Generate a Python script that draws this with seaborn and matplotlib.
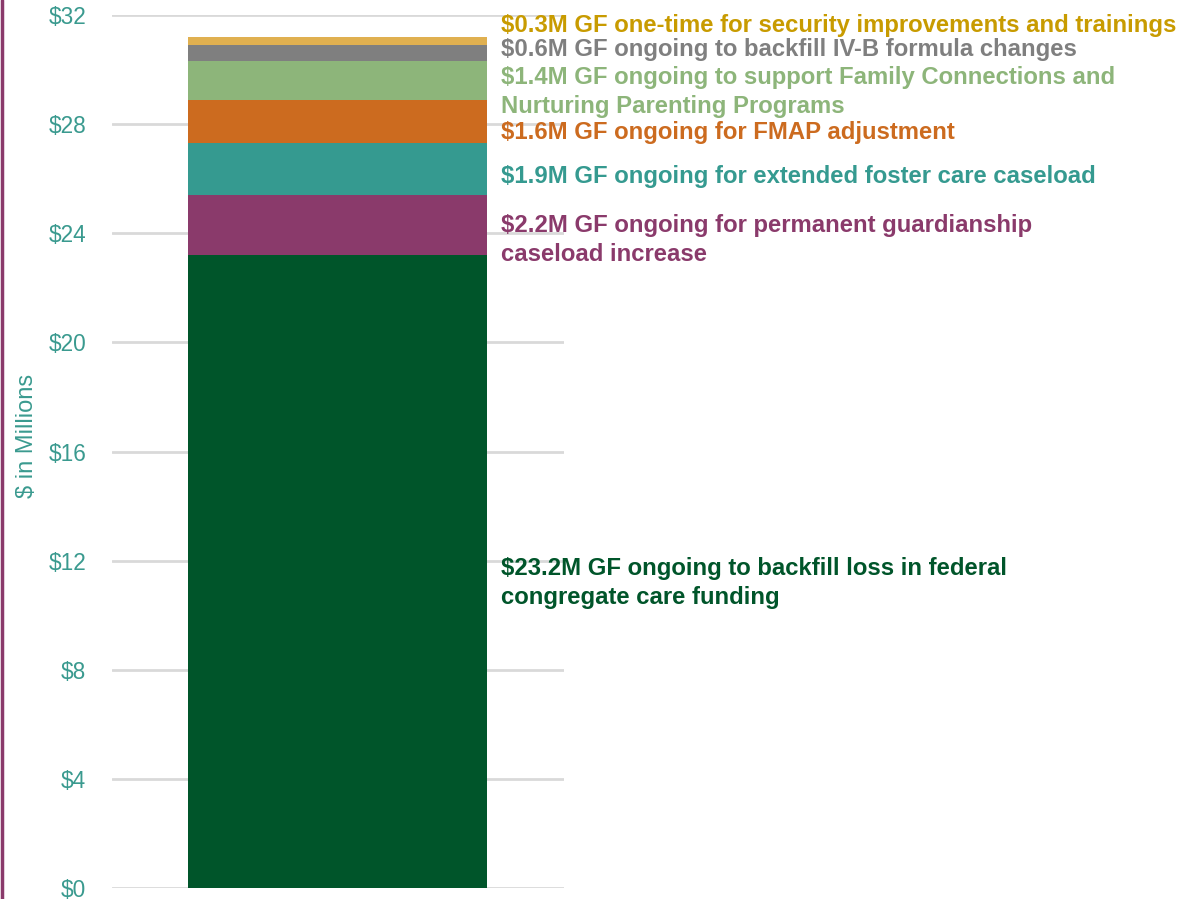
import numpy as np
import pandas as pd
import matplotlib
matplotlib.use("Agg")
import matplotlib.pyplot as plt
import matplotlib.transforms as mtransforms
from matplotlib.lines import Line2D
import seaborn as sns

# stacked components, bottom to top ($ millions)
amounts = [23.2, 2.2, 1.9, 1.6, 1.4, 0.6, 0.3]
labels = [
    "$23.2M GF ongoing to backfill loss in federal\ncongregate care funding",
    "$2.2M GF ongoing for permanent guardianship\ncaseload increase",
    "$1.9M GF ongoing for extended foster care caseload",
    "$1.6M GF ongoing for FMAP adjustment",
    "$1.4M GF ongoing to support Family Connections and\nNurturing Parenting Programs",
    "$0.6M GF ongoing to backfill IV-B formula changes",
    "$0.3M GF one-time for security improvements and trainings",
]
bar_colors = ["#00552A", "#8A3A6B", "#359A90", "#CC6B1F", "#8DB57A", "#7F7F7F", "#E0B050"]
text_colors = ["#00552A", "#8A3A6B", "#359A90", "#CC6B1F", "#8DB57A", "#7F7F7F", "#C89B00"]
# vertical position of each annotation (data units)
label_y = [11.18, 23.76, 26.08, 27.70, 29.17, 30.74, 31.60]
ticks = [0, 4, 8, 12, 16, 20, 24, 28, 32]

sns.set_style("white")
plt.rcParams["font.family"] = ["Liberation Sans", "DejaVu Sans"]

teal = "#3A9A8F"
fig = plt.figure(figsize=(11.91, 8.99), dpi=100)
ax = fig.add_axes([112 / 1191, 11 / 899, (564 - 112) / 1191, (888 - 15) / 899])

df = pd.DataFrame({"cat": [""] * len(amounts), "amount": amounts})
bottoms = np.concatenate([[0], np.cumsum(amounts)[:-1]])
for i in range(len(amounts)):
    sns.barplot(x=df["cat"].iloc[[i]], y=df["amount"].iloc[[i]], bottom=bottoms[i],
                color=bar_colors[i], saturation=1, width=0.6, ax=ax,
                linewidth=0, errorbar=None)

ax.set_xlim(-0.453, 0.4545)
ax.set_ylim(0, 32)
ax.set_yticks(ticks)
ax.set_yticklabels([f"${t}" for t in ticks])
ax.tick_params(axis="y", colors=teal, labelsize=16.3, pad=18.5, length=0)
ax.tick_params(axis="x", length=0, labelbottom=False)
ax.set_xlabel("")
ax.set_ylabel("$ in Millions", color=teal, fontsize=17)
ax.yaxis.set_label_coords(-0.163, 0.518)
ax.grid(axis="y", color="#D9D9D9", linewidth=2)
ax.set_axisbelow(True)
for s in ax.spines.values():
    s.set_visible(False)

trans = mtransforms.blended_transform_factory(fig.transFigure, ax.transData)
for txt, c, y in zip(labels, text_colors, label_y):
    ax.text(501 / 1191, y, txt, transform=trans, color=c, fontsize=17.2,
            fontweight="bold", va="center", ha="left", linespacing=1.33, clip_on=False)

fig.add_artist(Line2D([0.0013, 0.0013], [0, 1], transform=fig.transFigure,
                      color="#8A3A6B", linewidth=2.5))

fig.savefig("out.png", dpi=100)
